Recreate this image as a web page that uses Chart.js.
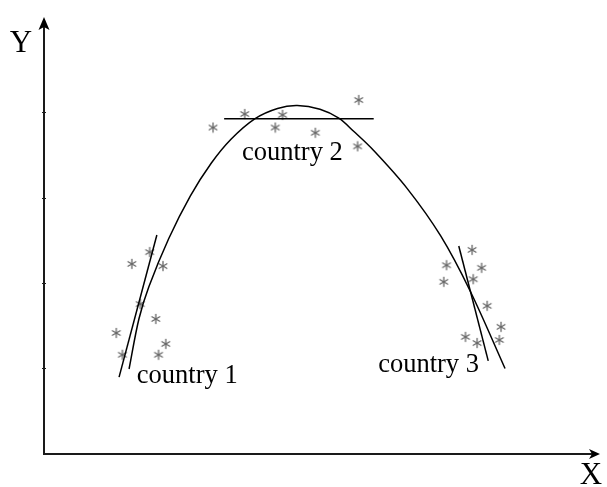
<!DOCTYPE html>
<html>
<head>
<meta charset="utf-8">
<script src="https://cdn.jsdelivr.net/npm/chart.js@4.4.1/dist/chart.umd.min.js"></script>
<style>
  html, body { margin: 0; padding: 0; background: #fff; }
  #wrap { width: 607px; height: 487px; }
</style>
</head>
<body>
<div id="wrap"><canvas id="chart"></canvas></div>
<script>
// curve (x, y in axis units 0..100)
const curveX = [15.30, 17.08, 18.86, 22.42, 26.33, 30.07, 33.63, 37.90, 42.00, 45.55, 49.64, 53.02, 55.69, 59.25, 65.30, 71.35, 76.69, 82.92];
const curveY = [19.45, 30.96, 38.28, 49.27, 59.08, 66.54, 72.04, 76.71, 79.08, 79.75, 78.88, 76.84, 73.84, 69.50, 60.78, 49.89, 37.19, 19.57];

// local fit lines, two ends each
const fit1X = [13.5, 20.3], fit1Y = [17.6, 50.1];
const fit2X = [32.4, 59.3], fit2Y = [76.7, 76.7];
const fit3X = [74.6, 79.9], fit3Y = [47.6, 21.3];

// observations per country
const c1X = [19.0, 15.8, 21.4, 17.3, 20.1, 13.0, 21.9, 14.1, 20.6];
const c1Y = [46.2, 43.5, 43.0, 34.3, 30.9, 27.7, 25.2, 22.7, 22.7];
const c2X = [56.6, 36.1, 30.4, 42.9, 41.6, 48.8, 56.4];
const c2Y = [81.0, 77.8, 74.7, 77.6, 74.7, 73.5, 70.4];
const c3X = [77.0, 72.4, 78.7, 71.9, 77.2, 79.7, 82.2, 75.8, 81.9, 77.9];
const c3Y = [46.7, 43.2, 42.6, 39.4, 40.0, 33.9, 29.1, 26.8, 26.1, 25.4];

const labels = ['country 1', 'country 2', 'country 3'];
const labelX = [16.7, 35.6, 60.1];
const labelY = [16.2, 67.3, 18.8];

const yTicks = [19.6, 39.1, 58.6, 78.2];

const pts = (xs, ys) => xs.map((x, i) => ({ x: x, y: ys[i] }));

// asterisk marker
function makeStar() {
    const c = document.createElement('canvas');
    c.width = 12; c.height = 12;
    const g = c.getContext('2d');
    g.strokeStyle = '#666';
    g.lineWidth = 1.3;
    g.lineCap = 'round';
    [90, 30, 150].forEach(a => {
        const r = a * Math.PI / 180;
        const dx = Math.cos(r) * 4.5, dy = Math.sin(r) * 4.5;
        g.beginPath();
        g.moveTo(6 - dx, 6 - dy);
        g.lineTo(6 + dx, 6 + dy);
        g.stroke();
    });
    return c;
}
const star = makeStar();

const lineSet = (xs, ys, smooth) => ({
    data: pts(xs, ys),
    showLine: true,
    borderColor: '#000',
    borderWidth: 1.5,
    pointRadius: 0,
    tension: smooth ? 0.35 : 0,
    fill: false
});
const starSet = (xs, ys) => ({
    data: pts(xs, ys),
    showLine: false,
    pointStyle: star,
    pointRadius: 6
});

const axesPlugin = {
    id: 'axesPlugin',
    afterDatasetsDraw(chart) {
        const ctx = chart.ctx;
        const xs = chart.scales.x, ys = chart.scales.y;
        const x0 = xs.getPixelForValue(0), y0 = ys.getPixelForValue(0);
        const x1 = xs.getPixelForValue(100), y1 = ys.getPixelForValue(100);
        ctx.save();
        ctx.strokeStyle = '#1a1a1a';
        ctx.fillStyle = '#000';
        ctx.lineWidth = 2;
        ctx.beginPath();
        ctx.moveTo(x0, y1 + 6);
        ctx.lineTo(x0, y0);
        ctx.lineTo(x1 - 6, y0);
        ctx.stroke();
        // arrow heads
        ctx.beginPath();
        ctx.moveTo(x0, y1);
        ctx.lineTo(x0 + 5.5, y1 + 13);
        ctx.lineTo(x0, y1 + 10);
        ctx.lineTo(x0 - 5.5, y1 + 13);
        ctx.closePath();
        ctx.fill();
        ctx.beginPath();
        ctx.moveTo(x1, y0);
        ctx.lineTo(x1 - 11, y0 - 5);
        ctx.lineTo(x1 - 8, y0);
        ctx.lineTo(x1 - 11, y0 + 5);
        ctx.closePath();
        ctx.fill();
        // small ticks on the y axis
        ctx.lineWidth = 1;
        yTicks.forEach(v => {
            const p = Math.round(ys.getPixelForValue(v)) + 0.5;
            ctx.beginPath();
            ctx.moveTo(x0 - 2, p);
            ctx.lineTo(x0 + 2, p);
            ctx.stroke();
        });
        // texts
        ctx.font = '26.5px "Liberation Serif", "Times New Roman", serif';
        ctx.textAlign = 'left';
        ctx.textBaseline = 'alphabetic';
        labels.forEach((t, i) => {
            ctx.fillText(t, xs.getPixelForValue(labelX[i]), ys.getPixelForValue(labelY[i]));
        });
        ctx.font = '31px "Liberation Serif", "Times New Roman", serif';
        ctx.textAlign = 'center';
        ctx.fillText('Y', x0 - 23, y1 + 35);
        ctx.fillText('X', x1 - 9, y0 + 30);
        ctx.restore();
    }
};

new Chart(document.getElementById('chart'), {
    type: 'scatter',
    data: {
        datasets: [
            lineSet(curveX, curveY, true),
            lineSet(fit1X, fit1Y, false),
            lineSet(fit2X, fit2Y, false),
            lineSet(fit3X, fit3Y, false),
            starSet(c1X, c1Y),
            starSet(c2X, c2Y),
            starSet(c3X, c3Y)
        ]
    },
    options: {
        responsive: true,
        maintainAspectRatio: false,
        animation: false,
        layout: { padding: { left: 44, top: 17, right: 1, bottom: 33 } },
        scales: {
            x: { type: 'linear', display: false, min: 0, max: 100 },
            y: { type: 'linear', display: false, min: 0, max: 100 }
        },
        plugins: {
            legend: { display: false },
            tooltip: { enabled: false }
        }
    },
    plugins: [axesPlugin]
});
</script>
</body>
</html>
